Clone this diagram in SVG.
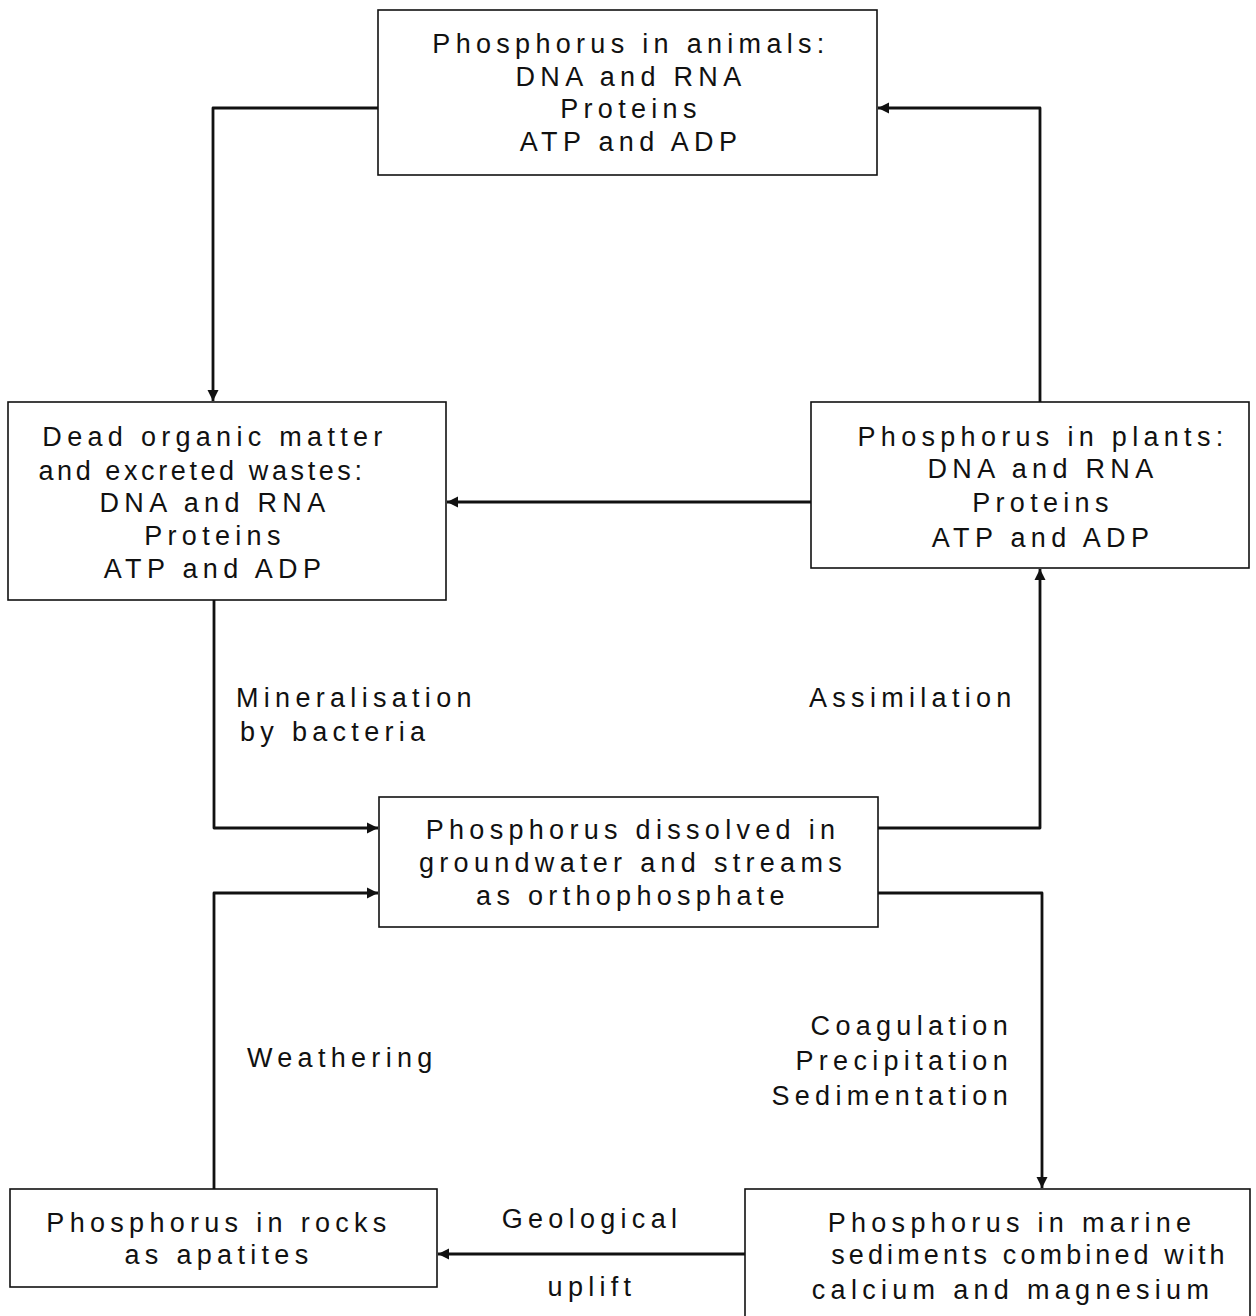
<svg xmlns="http://www.w3.org/2000/svg" width="1256" height="1316" viewBox="0 0 1256 1316">
<defs>
<style>
.box{fill:#fff;stroke:#111;stroke-width:1.6}
.c{fill:none;stroke:#111;stroke-width:2.8;stroke-linejoin:round}
text{font-family:"Liberation Sans",Arial,sans-serif;font-size:27px;fill:#111;letter-spacing:5.3px}
.m{text-anchor:middle}
</style>
<marker id="ah" viewBox="0 0 10 10" refX="10" refY="5" markerWidth="4" markerHeight="4" orient="auto" markerUnits="strokeWidth">
<path d="M0,0 L10,5 L0,10 z" fill="#111"/>
</marker>
</defs>
<rect width="1256" height="1316" fill="#fff"/>
<g id="connectors">
<path class="c" d="M378,108 H213 V401" marker-end="url(#ah)"/>
<path class="c" d="M1040,402 V108 H878" marker-end="url(#ah)"/>
<path class="c" d="M811,502 H447" marker-end="url(#ah)"/>
<path class="c" d="M214,600 V828 H378" marker-end="url(#ah)"/>
<path class="c" d="M214,1189 V893 H378" marker-end="url(#ah)"/>
<path class="c" d="M878,828 H1040 V569" marker-end="url(#ah)"/>
<path class="c" d="M878,893 H1042 V1188" marker-end="url(#ah)"/>
<path class="c" d="M745,1254 H438" marker-end="url(#ah)"/>
</g>
<g id="animals">
<rect class="box" x="378" y="10" width="499" height="165"/>
<text class="m" x="631" y="53">Phosphorus in animals:</text>
<text class="m" x="631" y="86">DNA and RNA</text>
<text class="m" x="631" y="118">Proteins</text>
<text class="m" x="631" y="151">ATP and ADP</text>
</g>
<g id="dead">
<rect class="box" x="8" y="402" width="438" height="198"/>
<text class="m" x="215" y="446">Dead organic matter</text>
<text class="m" x="202" y="480" style="letter-spacing:3.6px">and excreted wastes:</text>
<text class="m" x="215" y="512">DNA and RNA</text>
<text class="m" x="215" y="545">Proteins</text>
<text class="m" x="215" y="578">ATP and ADP</text>
</g>
<g id="plants">
<rect class="box" x="811" y="402" width="438" height="166"/>
<text class="m" x="1043" y="446">Phosphorus in plants:</text>
<text class="m" x="1043" y="478">DNA and RNA</text>
<text class="m" x="1043" y="512">Proteins</text>
<text class="m" x="1043" y="547">ATP and ADP</text>
</g>
<g id="dissolved">
<rect class="box" x="379" y="797" width="499" height="130"/>
<text class="m" x="633" y="839">Phosphorus dissolved in</text>
<text class="m" x="633" y="872">groundwater and streams</text>
<text class="m" x="633" y="905">as orthophosphate</text>
</g>
<g id="rocks">
<rect class="box" x="10" y="1189" width="427" height="98"/>
<text class="m" x="219" y="1232">Phosphorus in rocks</text>
<text class="m" x="219" y="1264">as apatites</text>
</g>
<g id="marine">
<rect class="box" x="745" y="1189" width="505" height="130"/>
<text class="m" x="1012" y="1232">Phosphorus in marine</text>
<text class="m" x="1030" y="1264" style="letter-spacing:4.1px">sediments combined with</text>
<text class="m" x="1013" y="1299">calcium and magnesium</text>
</g>
<g id="labels">
<text x="236" y="707">Mineralisation</text>
<text x="240" y="741">by bacteria</text>
<text x="809" y="707">Assimilation</text>
<text x="247" y="1067">Weathering</text>
<text x="1013" y="1035" text-anchor="end">Coagulation</text>
<text x="1013" y="1070" text-anchor="end">Precipitation</text>
<text x="1013" y="1105" text-anchor="end">Sedimentation</text>
<text class="m" x="592" y="1228">Geological</text>
<text class="m" x="592" y="1296">uplift</text>
</g>
</svg>
